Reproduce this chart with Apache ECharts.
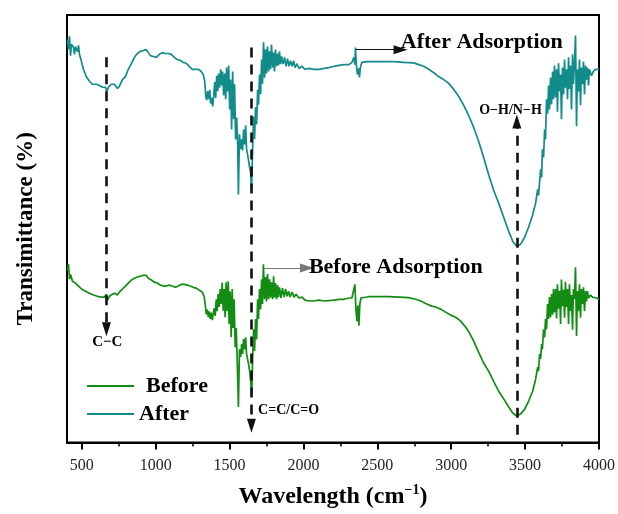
<!DOCTYPE html>
<html>
<head>
<meta charset="utf-8">
<script src="https://cdn.jsdelivr.net/npm/echarts@6/dist/echarts.min.js"></script>
<style>
  html, body { margin: 0; padding: 0; background: #fff; }
  #chart { width: 618px; height: 514px; }
</style>
</head>
<body>
<div id="chart"></div>
<script>
// FTIR spectra, wavenumber (cm-1) vs. relative transmittance (offset traces)
const afterWn = [403,410,417,424,430,444,451,457,471,478,484,498,511,530,552,572,599,619,640,660,670,680,700,721,741,754,775,795,815,836,856,876,896,917,937,950,964,984,1004,1025,1045,1065,1085,1106,1126,1146,1166,1187,1207,1227,1247,1268,1288,1308,1322,1332,1339,1345,1352,1359,1366,1372,1379,1386,1393,1400,1406,1413,1420,1426,1433,1440,1447,1453,1460,1467,1474,1480,1487,1494,1501,1507,1514,1521,1528,1534,1541,1548,1555,1560,1567,1575,1582,1588,1595,1602,1609,1615,1622,1629,1636,1642,1649,1656,1663,1669,1676,1683,1690,1696,1703,1710,1717,1723,1730,1737,1744,1750,1757,1764,1771,1777,1784,1791,1798,1804,1811,1818,1825,1831,1838,1845,1852,1862,1872,1882,1892,1902,1912,1923,1933,1943,1956,1970,1990,2010,2037,2071,2105,2139,2172,2206,2240,2274,2307,2328,2341,2348,2352,2358,2365,2372,2379,2385,2395,2429,2476,2544,2611,2679,2746,2780,2814,2848,2882,2915,2949,2983,3017,3050,3084,3118,3152,3186,3219,3253,3287,3321,3355,3389,3416,3443,3470,3497,3524,3551,3571,3585,3591,3605,3612,3617,3625,3632,3638,3645,3652,3659,3665,3672,3679,3686,3692,3699,3706,3713,3719,3726,3733,3740,3746,3753,3760,3767,3773,3780,3787,3794,3800,3807,3814,3821,3827,3834,3841,3848,3854,3861,3868,3875,3881,3888,3895,3902,3909,3915,3922,3929,3935,3949,3962,3976,3990,4000];
const afterT = [94.3,92.0,95.0,90.5,93.2,92.4,90.8,92.6,91.4,92.9,90.8,89.1,87.3,85.6,84.5,83.8,83.8,83.5,83.1,83.1,82.1,83.1,83.8,83.8,82.8,83.3,84.9,85.6,87.3,88.7,90.1,91.0,91.5,91.7,91.9,91.2,90.5,90.3,90.1,90.8,91.2,91.0,91.0,90.8,90.1,89.6,89.4,88.9,88.7,88.0,87.3,87.3,87.3,86.8,86.1,84.5,81.0,80.1,82.2,80.3,82.5,79.3,80.6,78.6,81.3,84.3,80.6,85.8,82.2,86.3,83.0,87.3,83.5,86.8,81.2,86.3,80.3,87.7,82.1,88.2,77.9,84.9,73.2,86.8,75.6,83.8,70.9,76.0,69.7,58.0,72.1,68.6,70.9,68.3,73.2,69.7,74.2,68.6,67.4,65.8,64.3,63.3,59.2,68.6,76.2,71.0,78.4,74.4,82.5,79.0,86.1,81.5,89.6,83.9,93.6,85.3,92.0,86.3,92.6,86.8,91.5,87.3,93.1,87.7,91.2,86.8,91.9,88.0,91.0,88.2,91.5,88.5,90.3,88.5,90.1,88.0,89.8,88.0,89.3,88.0,89.3,87.7,88.6,87.5,88.0,87.3,87.5,87.3,87.3,87.5,87.7,88.0,88.2,88.4,88.4,88.9,90.1,88.4,92.4,88.4,86.1,87.5,85.4,87.7,88.9,89.1,89.1,89.1,89.1,88.9,88.8,88.4,88.0,87.3,86.5,85.6,84.9,84.0,82.6,81.0,78.9,76.5,73.7,70.4,66.7,62.7,59.0,56.0,52.7,49.4,47.1,45.9,46.4,48.0,50.4,53.2,56.0,59.2,57.8,63.9,62.0,68.6,66.7,73.2,70.9,80.3,76.9,83.5,77.9,85.4,79.1,86.8,80.3,88.2,80.7,87.3,77.4,88.7,82.1,86.1,75.6,87.7,81.4,89.6,83.0,87.3,80.3,90.1,82.7,88.2,77.9,90.8,83.8,88.7,95.2,74.0,87.3,82.1,89.6,78.9,87.7,83.8,89.1,81.4,88.2,84.9,87.7,83.5,87.3,85.8,86.8,87.3,87.3,87.3];

const beforeWn = [403,410,417,424,437,457,478,498,525,552,579,606,633,653,667,674,687,707,727,741,754,775,795,815,836,856,876,896,917,937,950,971,991,1011,1031,1052,1072,1092,1112,1133,1153,1173,1193,1214,1234,1254,1274,1295,1315,1328,1335,1342,1349,1356,1362,1369,1376,1383,1389,1396,1403,1410,1416,1423,1430,1437,1443,1450,1457,1464,1470,1477,1484,1491,1497,1504,1511,1518,1524,1531,1538,1545,1551,1560,1567,1575,1582,1588,1595,1602,1609,1615,1622,1629,1636,1642,1650,1656,1663,1669,1676,1683,1690,1696,1703,1710,1717,1723,1729,1737,1744,1750,1757,1764,1771,1777,1784,1791,1798,1804,1811,1818,1825,1831,1838,1848,1858,1869,1879,1889,1899,1909,1923,1936,1950,1970,1990,2010,2037,2071,2105,2139,2172,2206,2240,2274,2307,2328,2338,2348,2355,2362,2368,2375,2382,2389,2397,2442,2510,2578,2645,2713,2758,2794,2834,2868,2895,2929,2962,2996,3030,3064,3097,3124,3152,3186,3219,3253,3287,3321,3355,3389,3416,3443,3470,3497,3524,3551,3571,3585,3591,3598,3605,3612,3617,3625,3632,3638,3645,3652,3659,3665,3672,3679,3686,3692,3699,3706,3713,3719,3726,3733,3740,3746,3753,3760,3767,3773,3780,3787,3794,3800,3807,3814,3821,3827,3834,3841,3848,3854,3861,3868,3875,3881,3888,3895,3902,3909,3915,3922,3929,3942,3956,3969,3983,4000];
const beforeT = [40.1,41.7,38.2,39.3,37.7,37.3,36.6,35.9,35.4,34.9,34.5,34.2,34.0,34.0,34.7,33.3,34.2,34.7,34.9,34.5,35.2,35.9,36.6,37.3,38.0,38.4,38.7,38.9,39.1,39.1,38.4,38.0,37.5,37.3,36.8,36.6,36.6,36.8,36.6,36.3,36.6,37.0,37.0,36.8,36.6,36.3,36.1,35.6,35.2,34.2,32.4,30.0,31.1,29.3,30.7,28.9,30.4,28.6,30.0,31.4,29.6,33.5,30.7,34.7,31.7,35.9,32.4,37.4,30.8,35.9,29.3,37.5,30.7,37.7,27.7,35.3,24.6,35.9,26.8,33.5,22.3,26.8,20.4,8.3,21.8,20.0,23.0,20.7,24.2,21.8,24.6,20.7,19.5,18.3,16.7,14.8,10.9,19.5,26.5,21.4,28.9,24.1,33.5,28.9,35.9,31.2,38.2,32.4,41.7,33.5,38.7,33.0,39.4,33.5,38.2,33.9,37.5,33.5,38.9,33.9,37.3,33.5,36.8,34.0,36.3,33.8,36.1,34.0,35.9,34.2,35.4,34.0,35.2,34.0,34.7,33.8,34.0,33.3,33.1,33.1,33.3,33.1,33.2,33.3,33.5,33.5,33.8,33.8,35.4,37.0,31.2,28.4,32.1,27.3,32.5,33.8,34.0,34.1,34.1,34.1,34.0,33.9,33.5,33.1,32.4,31.9,31.7,31.2,30.5,29.8,29.3,28.4,27.0,25.6,23.7,21.1,18.6,16.7,14.3,12.0,10.2,8.3,6.9,6.2,6.7,7.8,9.7,12.0,14.8,17.6,16.7,20.7,19.6,23.0,21.8,26.5,24.6,28.9,26.5,32.4,28.9,34.0,29.3,34.7,29.9,35.9,30.4,35.9,29.0,37.0,31.3,35.5,27.7,38.1,31.9,35.7,29.2,37.6,31.7,35.9,27.7,37.0,30.8,34.5,26.4,35.9,33.6,41.0,24.9,35.4,30.7,37.0,29.2,35.9,32.4,36.3,30.7,35.4,33.0,35.4,33.8,34.5,34.0,33.6,33.8,33.5];

const majorTicks = [500, 1000, 1500, 2000, 2500, 3000, 3500, 4000];
const minorTicks = [750, 1250, 1750, 2250, 2750, 3250, 3750];

// band positions marked with dashed arrows (cm-1)
const bandCC = 667;
const bandCO = 1648;
const bandOH = 3444;

const serif = 'Liberation Serif';
const tealColor = '#128b8b';
const greenColor = '#128c12';

const zip = (xs, ys) => xs.map((x, i) => [x, ys[i]]);

const chart = echarts.init(document.getElementById('chart'), null, { renderer: 'canvas' });

const dashed = { type: [10, 7], width: 2.6, color: '#111' };

chart.setOption({
  animation: false,
  backgroundColor: '#fff',
  grid: {
    left: 67, top: 15, right: 17, bottom: 70,
    show: true, borderColor: '#000', borderWidth: 2, containLabel: false
  },
  legend: {
    orient: 'vertical',
    left: 82, top: 370,
    icon: 'rect',
    itemWidth: 47, itemHeight: 2, itemGap: 6,
    textStyle: { fontFamily: serif, fontWeight: 'bold', fontSize: 22, color: '#000' },
    data: [
      { name: 'Before', textStyle: { padding: [0, 0, 0, 7] } },
      { name: 'After' }
    ]
  },
  xAxis: [{
    type: 'value', min: 400, max: 4000, position: 'bottom',
    name: 'Wavelength (cm{s|−1})',
    nameLocation: 'middle', nameGap: 41,
    nameTextStyle: {
      fontFamily: serif, fontWeight: 'bold', fontSize: 24, color: '#000',
      rich: { s: { fontFamily: serif, fontWeight: 'bold', fontSize: 14, color: '#000', padding: [0, 0, 13, 0] } }
    },
    axisLine: { show: true, onZero: false, lineStyle: { color: '#000', width: 2 } },
    axisTick: { show: true, customValues: majorTicks, length: 7, lineStyle: { color: '#000', width: 2 } },
    axisLabel: {
      show: true, customValues: majorTicks, margin: 15,
      fontFamily: serif, fontSize: 16, color: '#222',
      formatter: v => String(v)
    },
    splitLine: { show: false }
  }, {
    type: 'value', min: 400, max: 4000, position: 'bottom', gridIndex: 0,
    axisLine: { show: false },
    axisTick: { show: true, customValues: minorTicks, length: 4, lineStyle: { color: '#000', width: 1.5 } },
    axisLabel: { show: false },
    splitLine: { show: false }
  }],
  yAxis: {
    type: 'value', min: 0, max: 100,
    name: 'Transimittance (%)',
    nameLocation: 'middle', nameGap: 29,
    nameTextStyle: { fontFamily: serif, fontWeight: 'bold', fontSize: 23, color: '#000' },
    axisLine: { show: true, lineStyle: { color: '#000', width: 2 } },
    axisTick: { show: false },
    axisLabel: { show: false },
    splitLine: { show: false }
  },
  series: [{
    name: 'Before',
    type: 'line',
    data: zip(beforeWn, beforeT),
    showSymbol: false, symbol: 'none',
    lineStyle: { color: greenColor, width: 1.7 },
    itemStyle: { color: greenColor },
    z: 3,
    markLine: {
      silent: true,
      symbol: ['none', 'triangle'],
      symbolSize: [9, 14],
      label: { show: false },
      lineStyle: dashed,
      data: [
        [{ coord: [bandCC, 90.1] }, { coord: [bandCC, 26.5] }],
        [{ coord: [bandCO, 92.4] }, { coord: [bandCO, 3.9] }],
        [{ coord: [bandOH, 1.8] }, { coord: [bandOH, 75.1] }],
        [{ coord: [2355, 91.9], lineStyle: { type: 'solid', width: 1.2, color: '#111' }, symbolSize: [6, 12] },
         { coord: [2657, 91.9] }],
        [{ coord: [1733, 40.8], lineStyle: { type: 'solid', width: 1.2, color: '#777' }, symbolSize: [6, 12] },
         { coord: [2024, 40.8] }]
      ]
    },
    markPoint: {
      silent: true,
      symbol: 'circle', symbolSize: 0,
      label: { show: true, fontFamily: serif, fontWeight: 'bold', color: '#000', fontSize: 14 },
      data: [
        { coord: [673, 23.5], label: { position: 'inside', formatter: 'C−C', fontSize: 15 } },
        { coord: [1693, 7.6], label: { position: 'right', distance: 0, formatter: 'C=C/C=O' } },
        { coord: [3401, 77.7], label: { position: 'inside', formatter: 'O−H/N−H' } },
        { coord: [2659, 93.6], label: { position: 'right', distance: 0, formatter: 'After Adsorption', fontSize: 22 } },
        { coord: [2037, 41.0], label: { position: 'right', distance: 0, formatter: 'Before Adsorption', fontSize: 22 } }
      ]
    }
  }, {
    name: 'After',
    type: 'line',
    data: zip(afterWn, afterT),
    showSymbol: false, symbol: 'none',
    lineStyle: { color: tealColor, width: 1.7 },
    itemStyle: { color: tealColor },
    z: 3
  }]
});
</script>
</body>
</html>
